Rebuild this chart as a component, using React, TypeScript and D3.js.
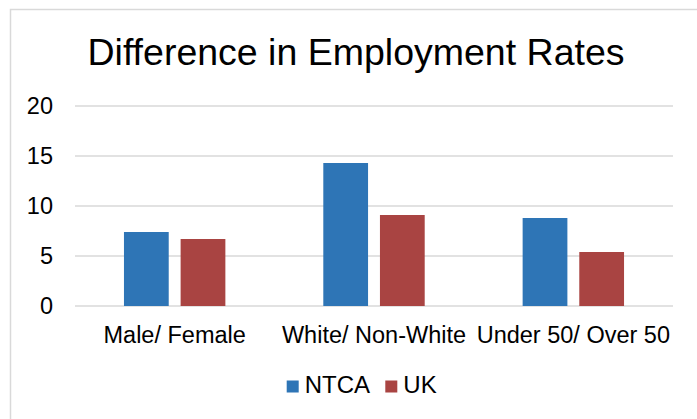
import React from "react";
import * as d3 from "d3";

const categories = ["Male/ Female", "White/ Non-White", "Under 50/ Over 50"];
const seriesNames = ["NTCA", "UK"];
const ntcaValues = [7.4, 14.3, 8.8];
const ukValues = [6.7, 9.1, 5.4];
const yTicks = [0, 5, 10, 15, 20];
const colors = ["#2E75B6", "#A94442"];

const W = 697;
const H = 419;
const FONT = "Arial, 'Liberation Sans', sans-serif";

export default function App() {
  const series = [ntcaValues, ukValues];
  const x0 = d3.scaleBand<string>().domain(categories).range([75, 673]).paddingInner(0).paddingOuter(0);
  const groupW = 101.4;
  const x1 = d3.scaleBand<string>().domain(seriesNames).range([0, groupW]).paddingInner(0.21).paddingOuter(0);
  const y = d3.scaleLinear().domain([0, 20]).range([306, 106]);

  return (
    <svg
      width={W}
      height={H}
      style={{ position: "absolute", left: 0, top: 0, display: "block" }}
      fontFamily={FONT}
    >
      <rect x={0} y={0} width={W} height={H} fill="#fff" />
      <rect x={10.5} y={9.5} width={W + 10} height={H + 10} fill="#fff" stroke="#d9d9d9" strokeWidth={1.5} />
      <text x={356} y={64.5} textAnchor="middle" fontSize={37.5} fill="#000">
        Difference in Employment Rates
      </text>
      {yTicks.map((t) => (
        <g key={t}>
          <line x1={75} x2={673} y1={y(t)} y2={y(t)} stroke="#d9d9d9" strokeWidth={1.5} />
          <text x={53} y={y(t)} dy="0.36em" textAnchor="end" fontSize={23.5} fill="#000">
            {t}
          </text>
        </g>
      ))}
      {categories.map((c, ci) => {
        const cx = (x0(c) as number) + x0.bandwidth() / 2;
        const gx = cx - groupW / 2;
        return (
          <g key={c}>
            {seriesNames.map((s, si) => (
              <rect
                key={s}
                x={gx + (x1(s) as number)}
                y={y(series[si][ci])}
                width={x1.bandwidth()}
                height={y(0) - y(series[si][ci])}
                fill={colors[si]}
              />
            ))}
            <text x={cx} y={342.5} textAnchor="middle" fontSize={23.5} fill="#000">
              {c}
            </text>
          </g>
        );
      })}
      {seriesNames.map((s, si) => {
        const lx = [286.7, 385.3][si];
        return (
          <g key={s}>
            <rect x={lx} y={380.5} width={12} height={12} fill={colors[si]} />
            <text x={lx + 18} y={393} fontSize={24} fill="#000">
              {s}
            </text>
          </g>
        );
      })}
    </svg>
  );
}
